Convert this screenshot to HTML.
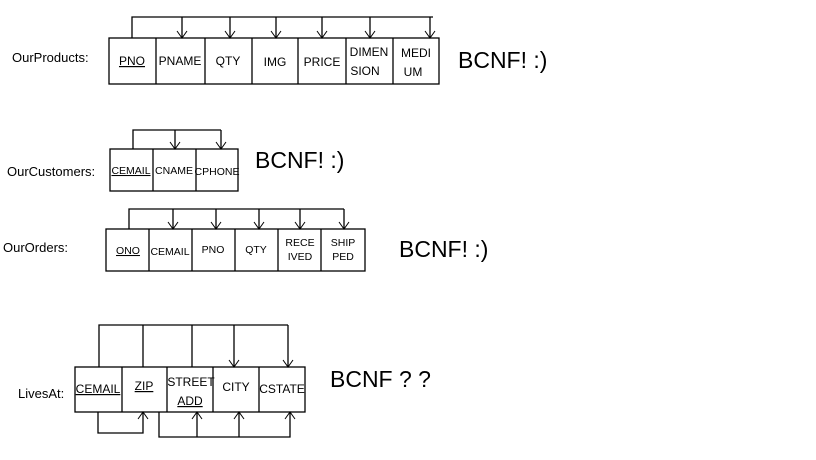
<!DOCTYPE html>
<html><head><meta charset="utf-8"><style>
html,body{margin:0;padding:0;background:#fff;}
svg{display:block;}
text{font-family:"Liberation Sans",sans-serif;fill:#000;}
.s{font-size:12px;}
.xs{font-size:10.5px;}
.b{font-size:23px;}
.l{font-size:13px;}
</style></head><body>
<svg width="816" height="460" viewBox="0 0 816 460" xmlns="http://www.w3.org/2000/svg">
<defs>
<marker id="ad" markerWidth="12" markerHeight="10" refX="6" refY="9" orient="0" markerUnits="userSpaceOnUse">
<path d="M1,2 L6,9 L11,2" fill="none" stroke="#000" stroke-width="1"/></marker>
<marker id="au" markerWidth="12" markerHeight="10" refX="6" refY="1" orient="0" markerUnits="userSpaceOnUse">
<path d="M1,8 L6,1 L11,8" fill="none" stroke="#000" stroke-width="1"/></marker>
</defs>
<g stroke="#000" stroke-width="1.3" fill="none">
<!-- Products -->
<rect x="109" y="38" width="330" height="46"/>
<path d="M156,38V84 M205,38V84 M252,38V84 M298,38V84 M346,38V84 M393,38V84"/>
<path d="M132,38V17H433"/>
<path d="M182,17V38" marker-end="url(#ad)"/>
<path d="M230,17V38" marker-end="url(#ad)"/>
<path d="M276,17V38" marker-end="url(#ad)"/>
<path d="M322,17V38" marker-end="url(#ad)"/>
<path d="M370,17V38" marker-end="url(#ad)"/>
<path d="M430,17V38" marker-end="url(#ad)"/>
<!-- Customers -->
<rect x="110" y="149" width="128" height="42"/>
<path d="M153,149V191 M196,149V191"/>
<path d="M133,149V130H221"/>
<path d="M175,130V149" marker-end="url(#ad)"/>
<path d="M221,130V149" marker-end="url(#ad)"/>
<!-- Orders -->
<rect x="106" y="229" width="259" height="42"/>
<path d="M149,229V271 M192,229V271 M235,229V271 M278,229V271 M321,229V271"/>
<path d="M129,229V209H344"/>
<path d="M173,209V229" marker-end="url(#ad)"/>
<path d="M216,209V229" marker-end="url(#ad)"/>
<path d="M259,209V229" marker-end="url(#ad)"/>
<path d="M300,209V229" marker-end="url(#ad)"/>
<path d="M344,209V229" marker-end="url(#ad)"/>
<!-- LivesAt -->
<rect x="75" y="367" width="230" height="45"/>
<path d="M122,367V412 M167,367V412 M213,367V412 M259,367V412"/>
<path d="M99,367V325H288 M143,325V367 M192,325V367"/>
<path d="M234,325V367" marker-end="url(#ad)"/>
<path d="M288,325V367" marker-end="url(#ad)"/>
<path d="M98,412V433H143V412" marker-end="url(#au)"/>
<path d="M159,412V437H290V412" marker-end="url(#au)"/>
<path d="M197,437V412" marker-end="url(#au)"/>
<path d="M239,437V412" marker-end="url(#au)"/>
</g>
<!-- labels -->
<text class="l" x="12" y="62">OurProducts:</text>
<text class="l" x="7" y="176">OurCustomers:</text>
<text class="l" x="3" y="252">OurOrders:</text>
<text class="l" x="18" y="398">LivesAt:</text>
<text class="b" x="458" y="68">BCNF! :)</text>
<text class="b" x="255" y="168">BCNF! :)</text>
<text class="b" x="399" y="257">BCNF! :)</text>
<text class="b" x="330" y="387">BCNF ? ?</text>
<g class="s" text-anchor="middle">
<text x="132" y="65" text-decoration="underline">PNO</text>
<text x="180" y="65">PNAME</text>
<text x="228" y="65">QTY</text>
<text x="275" y="66">IMG</text>
<text x="322" y="66">PRICE</text>
<text x="369" y="56">DIMEN</text><text x="365" y="75">SION</text>
<text x="416" y="57">MEDI</text><text x="413" y="76">UM</text>
</g>
<g class="xs" text-anchor="middle">
<text x="131" y="174" text-decoration="underline">CEMAIL</text>
<text x="174" y="174">CNAME</text>
<text x="217" y="175">CPHONE</text>
<text x="128" y="254" text-decoration="underline">ONO</text>
<text x="170" y="255">CEMAIL</text>
<text x="213" y="253">PNO</text>
<text x="256" y="253">QTY</text>
<text x="300" y="246">RECE</text><text x="300" y="260">IVED</text>
<text x="343" y="246">SHIP</text><text x="343" y="260">PED</text>
</g>
<g class="s" text-anchor="middle">
<text x="98" y="393" text-decoration="underline">CEMAIL</text>
<text x="144" y="390" text-decoration="underline">ZIP</text>
<text x="191" y="386">STREET</text>
<text x="190" y="405" text-decoration="underline">ADD</text>
<text x="236" y="391">CITY</text>
<text x="282" y="393">CSTATE</text>
</g>
</svg>
</body></html>
